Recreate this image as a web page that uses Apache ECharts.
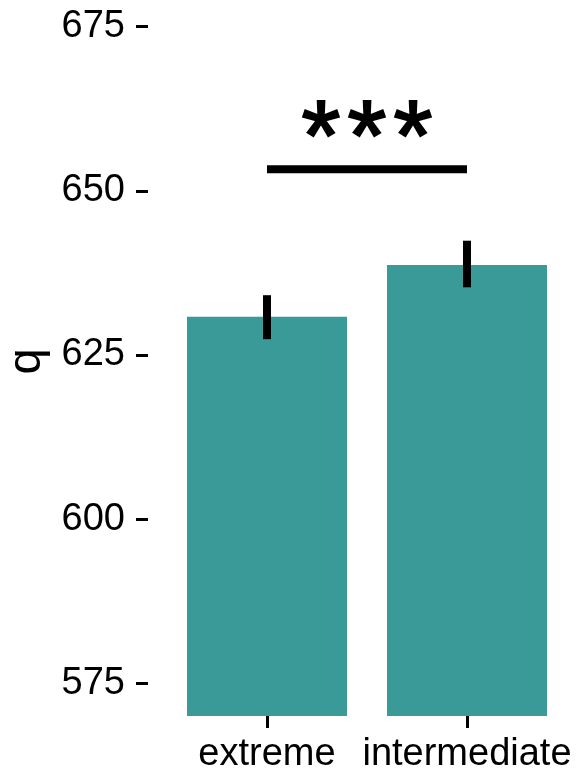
<!DOCTYPE html>
<html><head><meta charset="utf-8">
<script src="https://cdn.jsdelivr.net/npm/echarts@6/dist/echarts.min.js"></script>
<style>html,body{margin:0;padding:0;background:#fff}#c{width:578px;height:771px}</style>
</head><body><div id="c"></div>
<script>
const categories = ['extreme', 'intermediate'];
const meanValues = [630.8, 638.7];
const errLow = [627.4, 635.3];
const errHigh = [634.1, 642.4];
const yTicks = [575, 600, 625, 650, 675];
const sigPair = [0, 1];
const sigLevel = 653.3;
const sigLabel = '***';
const yName = 'q';

const FONT = 'Liberation Sans';
const chart = echarts.init(document.getElementById('c'), null, {renderer: 'canvas'});
const option = {
  animation: false,
  grid: {left: 167, right: 11, top: 7, bottom: 55, outerBoundsMode: 'none', containLabel: false},
  xAxis: {
    type: 'category', data: categories,
    axisLine: {show: false},
    axisTick: {show: true, alignWithLabel: true, length: 12, lineStyle: {color: '#000', width: 3}},
    axisLabel: {fontFamily: FONT, fontSize: 38, color: '#000', margin: 20, interval: 0, hideOverlap: false}
  },
  yAxis: {
    type: 'value', min: 570, max: 678, offset: 19,
    axisLine: {show: false}, splitLine: {show: false},
    axisTick: {show: true, length: 12, customValues: yTicks, lineStyle: {color: '#000', width: 3}},
    axisLabel: {customValues: yTicks, fontFamily: FONT, fontSize: 38, color: '#000', margin: 23},
    name: yName, nameLocation: 'middle', nameGap: 96,
    nameTextStyle: {fontFamily: FONT, fontSize: 47, color: '#000'}
  },
  series: [
    {type: 'bar', data: meanValues, barWidth: '80%', itemStyle: {color: '#3a9a97'}, silent: true},
    {
      type: 'custom', z: 5, silent: true,
      data: categories.map((c, i) => [i, errLow[i], errHigh[i]]),
      renderItem: (params, api) => {
        const p1 = api.coord([api.value(0), api.value(1)]);
        const p2 = api.coord([api.value(0), api.value(2)]);
        return {type: 'line', shape: {x1: p1[0], y1: p1[1], x2: p2[0], y2: p2[1]},
                style: {stroke: '#000', lineWidth: 8}};
      }
    },
    {
      type: 'custom', z: 5, silent: true, clip: false,
      data: [[sigPair[0], sigPair[1], sigLevel]],
      renderItem: (params, api) => {
        const a = api.coord([api.value(0), api.value(2)]);
        const b = api.coord([api.value(1), api.value(2)]);
        const mid = (a[0] + b[0]) / 2;
        const chars = sigLabel.split('');
        const stars = chars.map((ch, i) => ({
          type: 'text', x: mid + (i - (chars.length - 1) / 2) * 46, y: a[1] - 27,
          style: {text: ch, fill: '#000', stroke: '#000', lineWidth: 2, fontFamily: FONT, fontSize: 100, align: 'center', verticalAlign: 'middle'}
        }));
        return {type: 'group', children: [
          {type: 'line', shape: {x1: a[0], y1: a[1], x2: b[0], y2: b[1]}, style: {stroke: '#000', lineWidth: 8}}
        ].concat(stars)};
      }
    }
  ]
};
chart.setOption(option);
</script></body></html>
